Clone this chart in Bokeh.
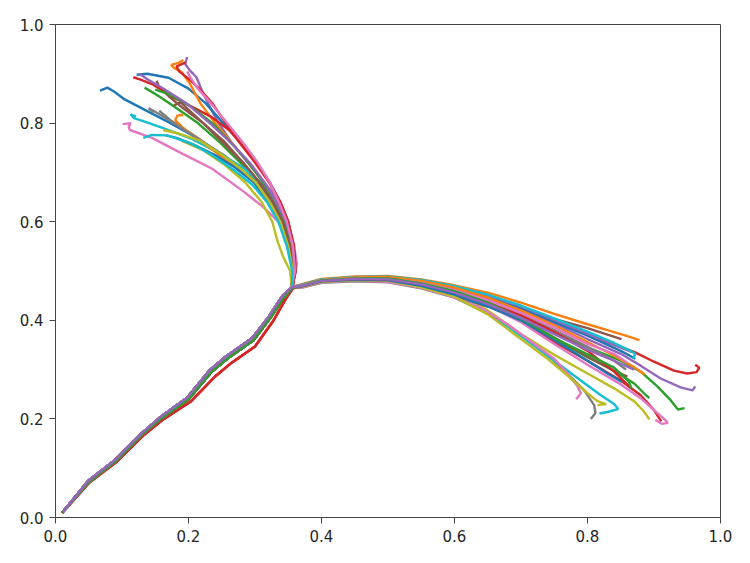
from bokeh.plotting import figure
from bokeh.models import Range1d, FixedTicker, PrintfTickFormatter, ColumnDataSource
from bokeh.embed import file_html
from bokeh.resources import INLINE

COLORS = ["#1f77b4", "#ff7f0e", "#2ca02c", "#d62728", "#9467bd",
          "#8c564b", "#e377c2", "#7f7f7f", "#bcbd22", "#17becf"]
TICKS = [0.0, 0.2, 0.4, 0.6, 0.8, 1.0]

# shared stem of the trajectories (three slightly different runs)
TRUNK_A_X = [0.010, 0.050, 0.090, 0.130, 0.160, 0.200, 0.235, 0.258, 0.298, 0.323, 0.343, 0.356]
TRUNK_A_Y = [0.010, 0.072, 0.114, 0.168, 0.202, 0.240, 0.296, 0.322, 0.360, 0.405, 0.446, 0.466]
TRUNK_B_X = [0.010, 0.051, 0.091, 0.131, 0.163, 0.204, 0.240, 0.265, 0.300, 0.327, 0.346, 0.357]
TRUNK_B_Y = [0.009, 0.071, 0.112, 0.165, 0.200, 0.236, 0.286, 0.314, 0.347, 0.398, 0.443, 0.465]
TRUNK_C_X = [0.011, 0.049, 0.089, 0.129, 0.159, 0.198, 0.232, 0.256, 0.296, 0.321, 0.341, 0.355]
TRUNK_C_Y = [0.011, 0.074, 0.116, 0.170, 0.205, 0.243, 0.299, 0.326, 0.364, 0.408, 0.449, 0.467]

# upper-left branch
U01_X = [0.358, 0.353, 0.340, 0.320, 0.295, 0.255, 0.210, 0.170, 0.130, 0.104, 0.088, 0.078, 0.067]
U01_Y = [0.500, 0.550, 0.600, 0.645, 0.688, 0.733, 0.772, 0.802, 0.830, 0.848, 0.864, 0.872, 0.866]
U02_X = [0.360, 0.356, 0.345, 0.332, 0.314, 0.290, 0.265, 0.240, 0.218, 0.202, 0.190, 0.178, 0.174, 0.185, 0.192]
U02_Y = [0.500, 0.550, 0.600, 0.640, 0.680, 0.720, 0.760, 0.800, 0.840, 0.880, 0.903, 0.912, 0.918, 0.922, 0.928]
U03_X = [0.358, 0.352, 0.340, 0.324, 0.304, 0.278, 0.248, 0.214, 0.180, 0.155, 0.134]
U03_Y = [0.500, 0.550, 0.600, 0.640, 0.680, 0.720, 0.760, 0.800, 0.832, 0.855, 0.872]
U04_X = [0.360, 0.358, 0.350, 0.338, 0.322, 0.300, 0.262, 0.235, 0.207, 0.177, 0.147, 0.128, 0.117]
U04_Y = [0.500, 0.550, 0.600, 0.640, 0.680, 0.725, 0.785, 0.812, 0.832, 0.852, 0.878, 0.888, 0.893]
U05_X = [0.361, 0.358, 0.347, 0.336, 0.323, 0.295, 0.265, 0.243, 0.222, 0.212, 0.202, 0.195, 0.198]
U05_Y = [0.500, 0.550, 0.605, 0.640, 0.665, 0.710, 0.760, 0.805, 0.860, 0.893, 0.907, 0.920, 0.934]
U06_X = [0.358, 0.352, 0.340, 0.325, 0.305, 0.282, 0.252, 0.222, 0.192, 0.170, 0.156, 0.152]
U06_Y = [0.500, 0.550, 0.600, 0.640, 0.680, 0.720, 0.765, 0.800, 0.830, 0.855, 0.873, 0.886]
U07_X = [0.360, 0.363, 0.360, 0.350, 0.335, 0.312, 0.282, 0.235, 0.192, 0.145, 0.112, 0.110, 0.113, 0.101]
U07_Y = [0.490, 0.515, 0.540, 0.570, 0.600, 0.630, 0.662, 0.708, 0.737, 0.770, 0.786, 0.792, 0.800, 0.798]
U08_X = [0.358, 0.352, 0.338, 0.322, 0.300, 0.272, 0.242, 0.212, 0.182, 0.160, 0.146, 0.140, 0.148]
U08_Y = [0.500, 0.550, 0.600, 0.640, 0.680, 0.712, 0.742, 0.772, 0.798, 0.815, 0.826, 0.830, 0.822]
U09_X = [0.353, 0.342, 0.334, 0.326, 0.310, 0.285, 0.255, 0.222, 0.190]
U09_Y = [0.500, 0.530, 0.560, 0.600, 0.640, 0.680, 0.715, 0.745, 0.764]
U10_X = [0.359, 0.357, 0.346, 0.332, 0.312, 0.284, 0.248, 0.205, 0.162, 0.132, 0.118, 0.113, 0.121]
U10_Y = [0.500, 0.550, 0.600, 0.640, 0.675, 0.708, 0.738, 0.768, 0.790, 0.804, 0.810, 0.818, 0.813]
U11_X = [0.361, 0.358, 0.350, 0.338, 0.322, 0.302, 0.278, 0.252, 0.226, 0.200, 0.170, 0.138, 0.122]
U11_Y = [0.500, 0.550, 0.600, 0.640, 0.680, 0.720, 0.760, 0.800, 0.840, 0.870, 0.892, 0.900, 0.898]
U12_X = [0.358, 0.352, 0.340, 0.322, 0.300, 0.272, 0.242, 0.212, 0.192, 0.180, 0.183, 0.192]
U12_Y = [0.500, 0.550, 0.600, 0.640, 0.680, 0.710, 0.740, 0.770, 0.790, 0.806, 0.815, 0.817]
U13_X = [0.359, 0.355, 0.344, 0.330, 0.312, 0.290, 0.264, 0.236, 0.202, 0.168, 0.150]
U13_Y = [0.500, 0.550, 0.600, 0.640, 0.680, 0.720, 0.760, 0.800, 0.835, 0.860, 0.868]
U14_X = [0.361, 0.359, 0.350, 0.338, 0.321, 0.300, 0.277, 0.256, 0.236, 0.216, 0.200, 0.186, 0.182, 0.196]
U14_Y = [0.500, 0.550, 0.600, 0.640, 0.680, 0.720, 0.760, 0.800, 0.840, 0.870, 0.890, 0.905, 0.915, 0.923]
U15_X = [0.360, 0.357, 0.347, 0.332, 0.314, 0.292, 0.264, 0.232, 0.197, 0.162, 0.137, 0.126]
U15_Y = [0.500, 0.550, 0.600, 0.640, 0.680, 0.720, 0.760, 0.800, 0.840, 0.870, 0.890, 0.900]
U16_X = [0.358, 0.353, 0.342, 0.327, 0.307, 0.282, 0.252, 0.222, 0.202, 0.188, 0.178]
U16_Y = [0.500, 0.550, 0.600, 0.640, 0.680, 0.720, 0.760, 0.800, 0.825, 0.842, 0.836]
U17_X = [0.360, 0.357, 0.348, 0.336, 0.322, 0.304, 0.282, 0.258, 0.234, 0.214, 0.204, 0.198]
U17_Y = [0.500, 0.550, 0.600, 0.640, 0.680, 0.720, 0.760, 0.800, 0.840, 0.870, 0.890, 0.905]
U18_X = [0.358, 0.351, 0.339, 0.323, 0.301, 0.276, 0.246, 0.212, 0.178, 0.156]
U18_Y = [0.500, 0.550, 0.600, 0.640, 0.680, 0.710, 0.740, 0.770, 0.800, 0.825]
U19_X = [0.357, 0.350, 0.338, 0.322, 0.301, 0.276, 0.246, 0.216, 0.182, 0.162]
U19_Y = [0.500, 0.550, 0.600, 0.640, 0.680, 0.710, 0.740, 0.765, 0.780, 0.786]
U20_X = [0.356, 0.348, 0.335, 0.318, 0.296, 0.268, 0.236, 0.202, 0.168, 0.145, 0.132]
U20_Y = [0.500, 0.550, 0.600, 0.640, 0.675, 0.705, 0.735, 0.760, 0.775, 0.776, 0.770]
U21_X = [0.358, 0.351, 0.338, 0.320, 0.298, 0.270, 0.240, 0.210, 0.182, 0.166]
U21_Y = [0.500, 0.550, 0.600, 0.640, 0.680, 0.710, 0.735, 0.755, 0.770, 0.775]

# right branch
R01_X = [0.372, 0.400, 0.450, 0.500, 0.550, 0.600, 0.650, 0.700, 0.750, 0.800, 0.830, 0.860, 0.878]
R01_Y = [0.474, 0.484, 0.489, 0.490, 0.483, 0.471, 0.456, 0.436, 0.413, 0.392, 0.380, 0.368, 0.360]
R02_X = [0.372, 0.400, 0.450, 0.500, 0.550, 0.600, 0.650, 0.700, 0.750, 0.800, 0.830, 0.851]
R02_Y = [0.472, 0.482, 0.487, 0.487, 0.479, 0.466, 0.449, 0.426, 0.403, 0.384, 0.371, 0.362]
R03_X = [0.372, 0.400, 0.450, 0.500, 0.550, 0.600, 0.650, 0.700, 0.750, 0.800, 0.840, 0.870, 0.900, 0.930, 0.950, 0.964, 0.968, 0.962]
R03_Y = [0.471, 0.481, 0.485, 0.485, 0.477, 0.463, 0.446, 0.423, 0.397, 0.371, 0.350, 0.336, 0.316, 0.298, 0.292, 0.295, 0.304, 0.310]
R04_X = [0.372, 0.400, 0.450, 0.500, 0.550, 0.600, 0.650, 0.700, 0.750, 0.800, 0.850, 0.880, 0.910, 0.940, 0.958, 0.962]
R04_Y = [0.471, 0.481, 0.486, 0.486, 0.477, 0.462, 0.444, 0.420, 0.394, 0.362, 0.332, 0.308, 0.282, 0.264, 0.258, 0.266]
R05_X = [0.372, 0.400, 0.450, 0.500, 0.550, 0.600, 0.650, 0.700, 0.750, 0.800, 0.850, 0.880, 0.905, 0.925, 0.936, 0.946]
R05_Y = [0.470, 0.481, 0.485, 0.484, 0.474, 0.458, 0.438, 0.410, 0.376, 0.345, 0.318, 0.296, 0.266, 0.238, 0.219, 0.222]
R06_X = [0.372, 0.400, 0.450, 0.500, 0.550, 0.600, 0.650, 0.700, 0.750, 0.800, 0.840, 0.870, 0.885, 0.893]
R06_Y = [0.469, 0.479, 0.483, 0.482, 0.472, 0.455, 0.432, 0.400, 0.362, 0.325, 0.298, 0.272, 0.252, 0.242]
R07_X = [0.372, 0.400, 0.450, 0.500, 0.550, 0.600, 0.650, 0.700, 0.750, 0.800, 0.850, 0.880, 0.900, 0.915, 0.921, 0.912, 0.902]
R07_Y = [0.469, 0.479, 0.482, 0.481, 0.471, 0.454, 0.430, 0.396, 0.352, 0.310, 0.270, 0.242, 0.218, 0.200, 0.192, 0.190, 0.198]
R08_X = [0.372, 0.400, 0.450, 0.500, 0.550, 0.600, 0.650, 0.700, 0.750, 0.800, 0.850, 0.880, 0.900, 0.911]
R08_Y = [0.469, 0.479, 0.483, 0.482, 0.472, 0.455, 0.431, 0.398, 0.356, 0.318, 0.278, 0.248, 0.218, 0.195]
R09_X = [0.372, 0.400, 0.450, 0.500, 0.550, 0.600, 0.650, 0.700, 0.750, 0.800, 0.840, 0.870, 0.885, 0.893]
R09_Y = [0.470, 0.481, 0.486, 0.487, 0.479, 0.460, 0.420, 0.372, 0.330, 0.292, 0.262, 0.236, 0.215, 0.199]
R10_X = [0.372, 0.400, 0.450, 0.500, 0.550, 0.600, 0.650, 0.700, 0.750, 0.790, 0.820, 0.840, 0.846, 0.830, 0.818]
R10_Y = [0.468, 0.478, 0.481, 0.480, 0.468, 0.450, 0.418, 0.368, 0.318, 0.278, 0.248, 0.230, 0.220, 0.214, 0.211]
R11_X = [0.372, 0.400, 0.450, 0.500, 0.550, 0.600, 0.650, 0.700, 0.740, 0.770, 0.795, 0.810, 0.812, 0.805]
R11_Y = [0.467, 0.476, 0.479, 0.477, 0.465, 0.446, 0.414, 0.370, 0.330, 0.292, 0.258, 0.228, 0.212, 0.200]
R12_X = [0.372, 0.400, 0.450, 0.500, 0.550, 0.600, 0.650, 0.700, 0.740, 0.770, 0.800, 0.815, 0.828, 0.815]
R12_Y = [0.468, 0.478, 0.481, 0.480, 0.467, 0.448, 0.412, 0.362, 0.322, 0.288, 0.252, 0.236, 0.230, 0.228]
R13_X = [0.372, 0.400, 0.450, 0.500, 0.550, 0.600, 0.640, 0.680, 0.720, 0.750, 0.770, 0.785, 0.790, 0.783]
R13_Y = [0.467, 0.477, 0.480, 0.478, 0.466, 0.446, 0.425, 0.392, 0.352, 0.322, 0.292, 0.266, 0.252, 0.240]
R14_X = [0.372, 0.400, 0.450, 0.500, 0.550, 0.600, 0.650, 0.700, 0.750, 0.800, 0.840, 0.862, 0.872, 0.868]
R14_Y = [0.473, 0.483, 0.488, 0.489, 0.482, 0.469, 0.452, 0.430, 0.404, 0.377, 0.354, 0.340, 0.332, 0.322]
R15_X = [0.372, 0.400, 0.450, 0.500, 0.550, 0.600, 0.650, 0.700, 0.750, 0.800, 0.840, 0.870, 0.886]
R15_Y = [0.472, 0.482, 0.487, 0.488, 0.480, 0.466, 0.446, 0.420, 0.390, 0.356, 0.328, 0.305, 0.290]
R16_X = [0.372, 0.400, 0.450, 0.500, 0.550, 0.600, 0.650, 0.700, 0.750, 0.800, 0.850, 0.872]
R16_Y = [0.472, 0.482, 0.486, 0.486, 0.478, 0.465, 0.447, 0.425, 0.397, 0.369, 0.338, 0.322]
R17_X = [0.372, 0.400, 0.450, 0.500, 0.550, 0.600, 0.650, 0.700, 0.750, 0.800, 0.840, 0.866]
R17_Y = [0.473, 0.483, 0.487, 0.487, 0.479, 0.467, 0.450, 0.428, 0.401, 0.373, 0.350, 0.336]
R18_X = [0.372, 0.400, 0.450, 0.500, 0.550, 0.600, 0.650, 0.700, 0.750, 0.800, 0.840, 0.860]
R18_Y = [0.468, 0.478, 0.481, 0.479, 0.468, 0.450, 0.428, 0.403, 0.365, 0.326, 0.298, 0.286]
R19_X = [0.372, 0.400, 0.450, 0.500, 0.550, 0.600, 0.650, 0.700, 0.750, 0.800, 0.830, 0.852]
R19_Y = [0.469, 0.479, 0.482, 0.481, 0.470, 0.452, 0.428, 0.400, 0.360, 0.318, 0.292, 0.275]
R20_X = [0.372, 0.400, 0.450, 0.500, 0.550, 0.600, 0.650, 0.700, 0.750, 0.800, 0.840, 0.866]
R20_Y = [0.470, 0.480, 0.484, 0.483, 0.474, 0.457, 0.435, 0.410, 0.376, 0.338, 0.296, 0.262]
R21_X = [0.372, 0.400, 0.450, 0.500, 0.550, 0.600, 0.650, 0.700, 0.750, 0.800, 0.840, 0.858]
R21_Y = [0.470, 0.480, 0.484, 0.484, 0.475, 0.459, 0.438, 0.412, 0.380, 0.346, 0.318, 0.300]
R22_X = [0.372, 0.400, 0.450, 0.500, 0.550, 0.600, 0.650, 0.700, 0.750, 0.800, 0.840, 0.860]
R22_Y = [0.471, 0.481, 0.485, 0.485, 0.476, 0.461, 0.441, 0.415, 0.385, 0.352, 0.332, 0.314]
R23_X = [0.372, 0.400, 0.450, 0.500, 0.550, 0.600, 0.650, 0.700, 0.750, 0.800, 0.840, 0.862, 0.866]
R23_Y = [0.471, 0.481, 0.485, 0.485, 0.475, 0.459, 0.436, 0.404, 0.364, 0.331, 0.304, 0.276, 0.262]
R24_X = [0.372, 0.400, 0.450, 0.500, 0.550, 0.600, 0.650, 0.700, 0.750, 0.800, 0.840, 0.870]
R24_Y = [0.470, 0.480, 0.484, 0.483, 0.473, 0.456, 0.433, 0.405, 0.372, 0.340, 0.318, 0.300]

TRUNKS = {"A": (TRUNK_A_X, TRUNK_A_Y), "B": (TRUNK_B_X, TRUNK_B_Y), "C": (TRUNK_C_X, TRUNK_C_Y)}

# (trunk, branch x, branch y, colour index) in drawing order
RUNS = [
    ("A", U01_X, U01_Y, 0), ("C", R01_X, R01_Y, 1), ("C", U03_X, U03_Y, 2), ("B", R03_X, R03_Y, 3),
    ("A", U05_X, U05_Y, 4), ("A", R02_X, R02_Y, 5), ("C", U07_X, U07_Y, 6), ("A", R11_X, R11_Y, 7),
    ("C", U09_X, U09_Y, 8), ("A", R10_X, R10_Y, 9), ("C", U11_X, U11_Y, 0), ("A", U02_X, U02_Y, 1),
    ("C", R05_X, R05_Y, 2), ("B", R08_X, R08_Y, 3), ("A", R04_X, R04_Y, 4), ("C", U06_X, U06_Y, 5),
    ("A", R07_X, R07_Y, 6), ("C", U08_X, U08_Y, 7), ("A", R09_X, R09_Y, 8), ("C", U10_X, U10_Y, 9),
    ("A", R16_X, R16_Y, 0), ("C", U12_X, U12_Y, 1), ("A", R06_X, R06_Y, 2), ("B", U04_X, U04_Y, 3),
    ("C", R17_X, R17_Y, 4), ("A", R18_X, R18_Y, 5), ("C", R13_X, R13_Y, 6), ("A", U18_X, U18_Y, 7),
    ("C", R12_X, R12_Y, 8), ("A", R14_X, R14_Y, 9), ("C", U21_X, U21_Y, 0), ("A", R15_X, R15_Y, 1),
    ("C", U13_X, U13_Y, 2), ("A", U14_X, U14_Y, 3), ("C", U15_X, U15_Y, 4), ("A", U16_X, U16_Y, 5),
    ("C", U17_X, U17_Y, 6), ("A", R21_X, R21_Y, 7), ("C", U19_X, U19_Y, 8), ("A", U20_X, U20_Y, 9),
    ("C", R19_X, R19_Y, 0), ("A", R20_X, R20_Y, 3), ("C", R22_X, R22_Y, 6), ("A", R23_X, R23_Y, 2),
    ("C", R24_X, R24_Y, 4),
]

xs, ys, cols = [], [], []
for trunk, bx, by, ci in RUNS:
    tx, ty = TRUNKS[trunk]
    xs.append(list(tx) + list(bx))
    ys.append(list(ty) + list(by))
    cols.append(COLORS[ci])

src = ColumnDataSource(dict(xs=xs, ys=ys, color=cols))

p = figure(width=745, height=560, output_backend="svg", toolbar_location=None,
           x_range=Range1d(0, 1), y_range=Range1d(0, 1),
           min_border_left=55, min_border_top=24, min_border_right=25, min_border_bottom=43)
p.multi_line(xs="xs", ys="ys", line_color="color", line_width=2.4, source=src)

p.grid.visible = False
p.outline_line_color = "#444444"
p.outline_line_width = 1
p.background_fill_color = "white"
p.border_fill_color = "white"

for ax in (p.xaxis[0], p.yaxis[0]):
    ax.ticker = FixedTicker(ticks=TICKS)
    ax.formatter = PrintfTickFormatter(format="%.1f")
    ax.axis_line_color = "#444444"
    ax.major_tick_line_color = "#444444"
    ax.major_tick_out = 6
    ax.major_tick_in = 0
    ax.minor_tick_line_color = None
    ax.major_label_text_font = "DejaVu Sans"
    ax.major_label_text_font_size = "15px"
    ax.major_label_text_color = "#262626"
    ax.major_label_standoff = 6

out = file_html(p, INLINE)
open("out.html", "w").write(out)
